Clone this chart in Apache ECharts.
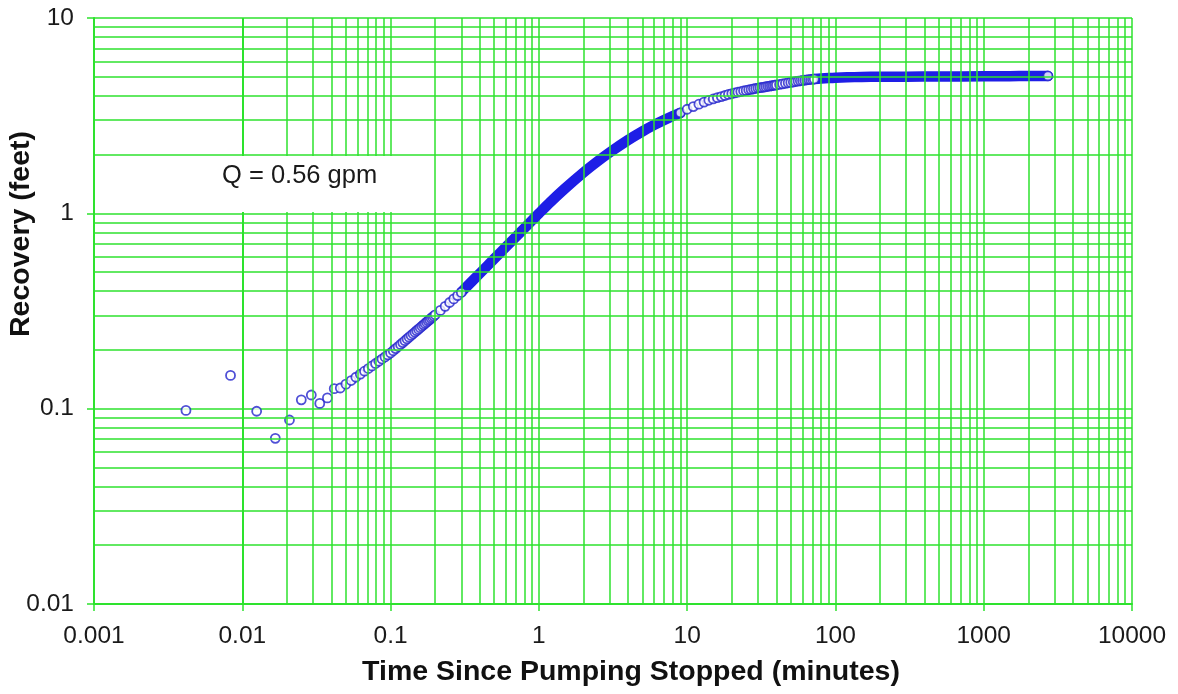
<!DOCTYPE html>
<html>
<head>
<meta charset="utf-8">
<script src="https://cdn.jsdelivr.net/npm/echarts@6/dist/echarts.min.js"></script>
<style>
  html, body { margin: 0; padding: 0; background: #ffffff; }
  #chart { width: 1178px; height: 694px; }
</style>
</head>
<body>
<div id="chart"></div>
<script>
// ---------- data ----------
const xTickLabels = ['0.001', '0.01', '0.1', '1', '10', '100', '1000', '10000'];
const yTickLabels = ['0.01', '0.1', '1', '10'];
const gridMultipliers = [2, 3, 4, 5, 6, 7, 8, 9];

// early, individually visible readings (minutes, feet)
const earlyTime = [0.00417, 0.00833, 0.0125, 0.0167, 0.0208, 0.025, 0.0292, 0.0333, 0.0375, 0.0417, 0.0458,
  0.05, 0.0542, 0.0583, 0.0625, 0.0667, 0.0708, 0.075, 0.0792, 0.0833, 0.0875, 0.0917, 0.0958, 0.1,
  0.1042, 0.1083, 0.1125, 0.1167, 0.1208, 0.125, 0.1292, 0.1333, 0.1375, 0.1417, 0.1458, 0.15,
  0.1542, 0.1583, 0.1625, 0.1667, 0.1708, 0.175, 0.1792, 0.1833, 0.1875, 0.1917, 0.1958, 0.2,
  0.2167, 0.2333, 0.25, 0.2667, 0.2833, 0.3];
const earlyRecovery = [0.098, 0.148, 0.097, 0.0705, 0.0875, 0.111, 0.1175, 0.1064, 0.1135, 0.1266, 0.1276,
  0.1335, 0.1393, 0.1448, 0.1502, 0.1555, 0.1605, 0.1655, 0.1703, 0.1749, 0.1795, 0.1841, 0.1884, 0.1927,
  0.1979, 0.2030, 0.2080, 0.2130, 0.2179, 0.2228, 0.2276, 0.2323, 0.2370, 0.2417, 0.2462, 0.2508,
  0.2553, 0.2597, 0.2642, 0.2686, 0.2729, 0.2772, 0.2815, 0.2857, 0.2900, 0.2942, 0.2982, 0.3024,
  0.3185, 0.3342, 0.3496, 0.3646, 0.3792, 0.3936];

// densely logged part (markers merge into a solid band)
const bandTime = [0.3, 0.4, 0.5, 0.6, 0.7, 0.8, 0.9, 1.0, 1.2, 1.5, 2.0, 2.5, 3.0, 4.0, 5.0, 6.0, 7.0, 8.0, 9.0];
const bandRecovery = [0.395, 0.493, 0.585, 0.673, 0.758, 0.840, 0.920, 0.998, 1.145, 1.340, 1.619, 1.851, 2.049,
  2.373, 2.628, 2.835, 3.004, 3.148, 3.269];

// middle readings, markers visible again
const midTime = [9, 10, 11, 12, 13, 14, 15, 16, 17, 18, 19, 20, 21, 22, 23, 24, 25, 26, 27, 28, 29, 30,
  31, 32, 33, 34, 35, 36, 37, 38, 39, 40, 42, 44, 46, 48, 50, 52, 54, 56, 58, 60, 62, 64, 66, 68, 70, 72];
const midRecovery = [3.27, 3.41, 3.52, 3.62, 3.71, 3.79, 3.85, 3.91, 3.96, 4.01, 4.06, 4.10, 4.14, 4.17, 4.20, 4.24,
  4.26, 4.29, 4.31, 4.34, 4.36, 4.38, 4.40, 4.41, 4.43, 4.45, 4.47, 4.48, 4.50, 4.51, 4.53, 4.54,
  4.57, 4.60, 4.63, 4.66, 4.68, 4.70, 4.73, 4.75, 4.77, 4.79, 4.80, 4.82, 4.84, 4.85, 4.86, 4.87];

// late, densely logged plateau
const lateTime = [72, 80, 90, 100, 120, 150, 200, 300, 500, 1000, 1500, 2000, 2711];
const lateRecovery = [4.87, 4.90, 4.93, 4.95, 4.97, 4.99, 5.00, 5.01, 5.02, 5.03, 5.04, 5.05, 5.05];

// final reading
const lastTime = [2711];
const lastRecovery = [5.05];

const annotation = 'Q = 0.56 gpm';
const xTitle = 'Time Since Pumping Stopped (minutes)';
const yTitle = 'Recovery (feet)';

// ---------- build ----------
const GREEN = '#2ee22e';
const BLUE = '#1e1ee6';
const RING = '#2323cc';
const FONT = "'Liberation Sans', Arial, sans-serif";

function pairs(xs, ys) { return xs.map((x, i) => [x, ys[i]]); }

const xMinor = [];
for (let e = -3; e < 4; e++) gridMultipliers.forEach(m => xMinor.push({ xAxis: m * Math.pow(10, e) }));
const yMinor = [];
for (let e = -2; e < 1; e++) gridMultipliers.forEach(m => yMinor.push({ yAxis: m * Math.pow(10, e) }));

function xLabel(v) { return xTickLabels[Math.round(Math.log10(v)) + 3] || ''; }
function yLabel(v) { return yTickLabels[Math.round(Math.log10(v)) + 2] || ''; }

const markerStyle = { color: '#ffffff', borderColor: RING, borderWidth: 1.8 };
const MS = 9;

const chart = echarts.init(document.getElementById('chart'), null, { renderer: 'canvas' });
chart.setOption({
  animation: false,
  backgroundColor: '#ffffff',
  grid: { left: 94, right: 46, top: 18, bottom: 90, containLabel: false },
  xAxis: {
    type: 'log', logBase: 10, min: 0.001, max: 10000, interval: 1,
    axisLine: { show: true, lineStyle: { color: GREEN, width: 2 } },
    axisTick: { show: true, inside: false, length: 7, lineStyle: { color: GREEN, width: 1.5 } },
    splitLine: { show: true, lineStyle: { color: GREEN, width: 1.5 } },
    axisLabel: { formatter: xLabel, fontFamily: FONT, fontSize: 24.5, color: '#1a1a1a', margin: 20 },
    name: xTitle, nameLocation: 'middle', nameGap: 54,
    nameTextStyle: { fontFamily: FONT, fontSize: 28.5, fontWeight: 'bold', color: '#111', padding: [0, 0, 0, 36] }
  },
  yAxis: {
    type: 'log', logBase: 10, min: 0.01, max: 10, interval: 1,
    axisLine: { show: true, lineStyle: { color: GREEN, width: 2 } },
    axisTick: { show: true, inside: false, length: 7, lineStyle: { color: GREEN, width: 1.5 } },
    splitLine: { show: true, lineStyle: { color: GREEN, width: 1.5 } },
    axisLabel: { formatter: yLabel, fontFamily: FONT, fontSize: 24.5, color: '#1a1a1a', margin: 20 }
  },
  graphic: [
    { type: 'rect', z: 100, shape: { x: 212, y: 156, width: 204, height: 56 }, style: { fill: '#ffffff' } },
    { type: 'text', z: 101, x: 222, y: 176,
      style: { text: annotation, font: "25.5px 'Liberation Sans', Arial, sans-serif", fill: '#1a1a1a', verticalAlign: 'middle', align: 'left' } },
    { type: 'text', z: 101, x: 21, y: 234, rotation: Math.PI / 2,
      style: { text: yTitle, font: "bold 28.5px 'Liberation Sans', Arial, sans-serif", fill: '#111', verticalAlign: 'middle', align: 'center' } }
  ],
  series: [
    {
      type: 'line', data: [], silent: true, z: 1, symbol: 'none',
      markLine: {
        silent: true, symbol: ['none', 'none'], label: { show: false },
        lineStyle: { color: GREEN, width: 1.5, type: 'solid' },
        emphasis: { disabled: true },
        data: xMinor.concat(yMinor)
      }
    },
    { type: 'scatter', z: 3, symbol: 'circle', symbolSize: MS, itemStyle: markerStyle, data: pairs(earlyTime, earlyRecovery) },
    { type: 'line', z: 3, showSymbol: false, smooth: 0.3, lineStyle: { color: BLUE, width: 10.5, cap: 'round', join: 'round' }, data: pairs(bandTime, bandRecovery) },
    { type: 'scatter', z: 3, symbol: 'circle', symbolSize: MS, itemStyle: markerStyle, data: pairs(midTime, midRecovery) },
    { type: 'line', z: 3, showSymbol: false, smooth: 0.3, lineStyle: { color: BLUE, width: 10.5, cap: 'round', join: 'round' }, data: pairs(lateTime, lateRecovery) },
    { type: 'scatter', z: 3, symbol: 'circle', symbolSize: MS, itemStyle: markerStyle, data: pairs(lastTime, lastRecovery) }
  ]
});
</script>
</body>
</html>
